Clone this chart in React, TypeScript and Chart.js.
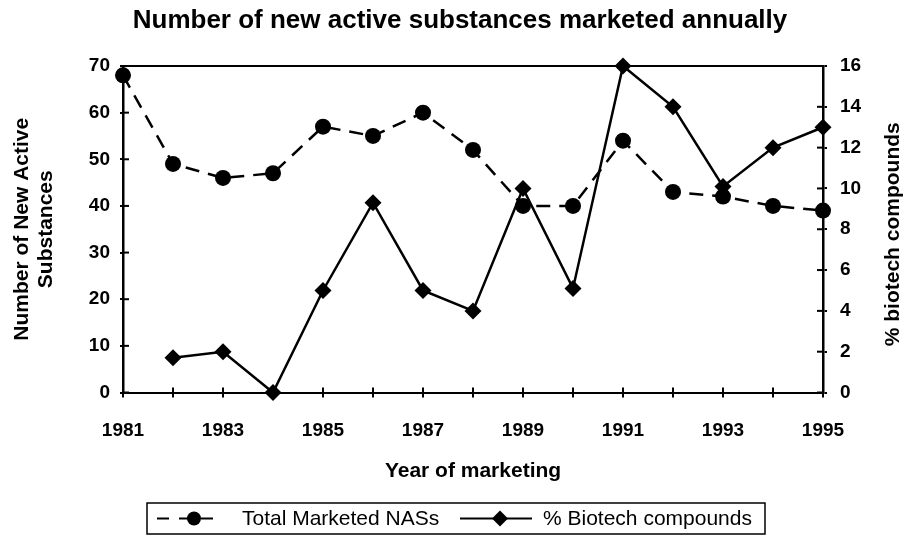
import React, { useEffect, useRef } from 'react';
import { Chart, registerables } from 'chart.js';

Chart.register(...registerables);

// ---- data ----
const years = ['1981', '1982', '1983', '1984', '1985', '1986', '1987', '1988', '1989', '1990', '1991', '1992', '1993', '1994', '1995'];
const xTickLabels = ['1981', '', '1983', '', '1985', '', '1987', '', '1989', '', '1991', '', '1993', '', '1995'];
const totalNAS = [68, 49, 46, 47, 57, 55, 60, 52, 40, 40, 54, 43, 42, 40, 39];
const biotechPct: (number | null)[] = [null, 1.7, 2, 0, 5, 9.3, 5, 4, 10, 5.1, 16, 14, 10.1, 12, 13];
const leftAxisRange = [0, 70];
const rightAxisRange = [0, 16];

const chartTitle = 'Number of new active substances marketed annually';
const xTitle = 'Year of marketing';
const yTitle = ['Number of New Active', 'Substances'];
const y1Title = '% biotech compounds';
const seriesNames = ['Total Marketed NASs', '% Biotech compounds'];

const FONT = '"Liberation Sans", Arial, Helvetica, sans-serif';
const INK = '#000000';

const decorPlugin = {
  id: 'decor',
  afterDraw(chart: any) {
    const { ctx, chartArea, scales } = chart;
    const ca = chartArea;
    ctx.save();
    ctx.strokeStyle = INK;
    ctx.fillStyle = INK;
    ctx.lineWidth = 2;
    const seg = (x1: number, y1: number, x2: number, y2: number) => {
      ctx.beginPath();
      ctx.moveTo(x1, y1);
      ctx.lineTo(x2, y2);
      ctx.stroke();
    };
    // top frame line
    seg(ca.left - 1, ca.top, ca.right + 1, ca.top);
    // inward halves of the crossing tick marks
    const xs = scales.x;
    xs.ticks.forEach((_: any, i: number) => {
      const p = xs.getPixelForTick(i);
      seg(p, ca.bottom, p, ca.bottom - 5);
    });
    const ys = scales.y;
    ys.ticks.forEach((_: any, i: number) => {
      const p = ys.getPixelForTick(i);
      seg(ca.left, p, ca.left + 6, p);
    });
    const y1s = scales.y1;
    y1s.ticks.forEach((_: any, i: number) => {
      const p = y1s.getPixelForTick(i);
      seg(ca.right, p, ca.right - 6, p);
    });

    // main title
    ctx.font = `bold 26px ${FONT}`;
    ctx.textAlign = 'center';
    ctx.textBaseline = 'middle';
    ctx.fillText(chartTitle, chart.width / 2 + 7, 21);

    // right axis title (reads bottom to top)
    ctx.save();
    ctx.translate(893, (ca.top + ca.bottom) / 2 + 5);
    ctx.rotate(-Math.PI / 2);
    ctx.font = `bold 21px ${FONT}`;
    ctx.fillText(y1Title, 0, 0);
    ctx.restore();

    // legend box
    const lx = 147, ly = 503, lw = 618, lh = 31;
    const my = ly + lh / 2;
    ctx.lineWidth = 1.5;
    ctx.strokeRect(lx, ly, lw, lh);
    ctx.font = `21px ${FONT}`;
    ctx.textAlign = 'left';
    ctx.textBaseline = 'middle';
    // item 1: dashed line + circle
    ctx.lineWidth = 2;
    ctx.setLineDash([12, 10]);
    ctx.lineDashOffset = 0;
    seg(lx + 10, my, lx + 76, my);
    ctx.setLineDash([]);
    ctx.beginPath();
    ctx.arc(lx + 47, my, 7, 0, Math.PI * 2);
    ctx.fill();
    ctx.fillText(seriesNames[0], lx + 95, my + 1);
    // item 2: solid line + diamond
    const sx = 460;
    seg(sx, my, sx + 72, my);
    const dx = sx + 40, r = 8;
    ctx.beginPath();
    ctx.moveTo(dx, my - r);
    ctx.lineTo(dx + r, my);
    ctx.lineTo(dx, my + r);
    ctx.lineTo(dx - r, my);
    ctx.closePath();
    ctx.fill();
    ctx.fillText(seriesNames[1], sx + 83, my + 1);

    ctx.restore();
  },
};

export default function App() {
  const canvasRef = useRef<HTMLCanvasElement | null>(null);

  useEffect(() => {
    document.body.style.margin = '0';
    const canvas = canvasRef.current;
    if (!canvas) return;
    const tickFont = { family: FONT, size: 19, weight: 'bold' as const };
    const titleFont = { family: FONT, size: 21, weight: 'bold' as const };
    const chart = new Chart(canvas, {
      type: 'line',
      data: {
        labels: years,
        datasets: [
          {
            label: seriesNames[0],
            data: totalNAS,
            yAxisID: 'y',
            order: 1,
            borderColor: INK,
            backgroundColor: INK,
            borderWidth: 2.5,
            borderDash: [14, 9],
            pointStyle: 'circle',
            pointRadius: 8,
            pointBackgroundColor: INK,
            pointBorderColor: INK,
            pointBorderWidth: 0,
            tension: 0,
            clip: false as any,
          },
          {
            label: seriesNames[1],
            data: biotechPct,
            yAxisID: 'y1',
            order: 0,
            borderColor: INK,
            backgroundColor: INK,
            borderWidth: 2.5,
            pointStyle: 'rectRot',
            pointRadius: 8.5,
            pointBackgroundColor: INK,
            pointBorderColor: INK,
            pointBorderWidth: 0,
            tension: 0,
            spanGaps: false,
            clip: false as any,
          },
        ],
      },
      options: {
        responsive: false,
        animation: false,
        events: [],
        layout: { padding: { top: 66, left: 0, right: 0, bottom: 0 } },
        plugins: {
          legend: { display: false },
          title: { display: false },
          tooltip: { enabled: false },
        },
        scales: {
          x: {
            type: 'category',
            offset: false,
            grid: { drawOnChartArea: false, drawTicks: true, tickLength: 5, color: INK, lineWidth: 2 },
            border: { display: true, color: INK, width: 2 },
            ticks: {
              color: INK,
              font: tickFont,
              padding: 22,
              maxRotation: 0,
              autoSkip: false,
              callback: (_v: any, i: number) => xTickLabels[i],
            },
            title: {
              display: true,
              text: xTitle,
              color: INK,
              font: titleFont,
              padding: { top: 0, bottom: 55 },
            },
            afterFit: (s: any) => {
              s.height = 146.5;
            },
          },
          y: {
            position: 'left',
            min: leftAxisRange[0],
            max: leftAxisRange[1],
            grid: { drawOnChartArea: false, drawTicks: true, tickLength: 3, color: INK, lineWidth: 2 },
            border: { display: true, color: INK, width: 2.5 },
            ticks: { stepSize: 10, color: INK, font: tickFont, padding: 10 },
            title: {
              display: true,
              text: yTitle,
              color: INK,
              font: { ...titleFont, lineHeight: 1.15 },
              padding: { top: 10, bottom: 0 },
            },
            afterFit: (s: any) => {
              s.width = 123;
            },
          },
          y1: {
            position: 'right',
            min: rightAxisRange[0],
            max: rightAxisRange[1],
            grid: { drawOnChartArea: false, drawTicks: true, tickLength: 4, color: INK, lineWidth: 2 },
            border: { display: true, color: INK, width: 2.5 },
            ticks: { stepSize: 2, color: INK, font: tickFont, padding: 13 },
            title: { display: false },
            afterFit: (s: any) => {
              s.width = 83;
            },
          },
        },
      },
      plugins: [decorPlugin],
    } as any);
    return () => chart.destroy();
  }, []);

  return (
    <div style={{ width: 906, height: 539 }}>
      <canvas ref={canvasRef} width={906} height={539} style={{ display: 'block' }} />
    </div>
  );
}
